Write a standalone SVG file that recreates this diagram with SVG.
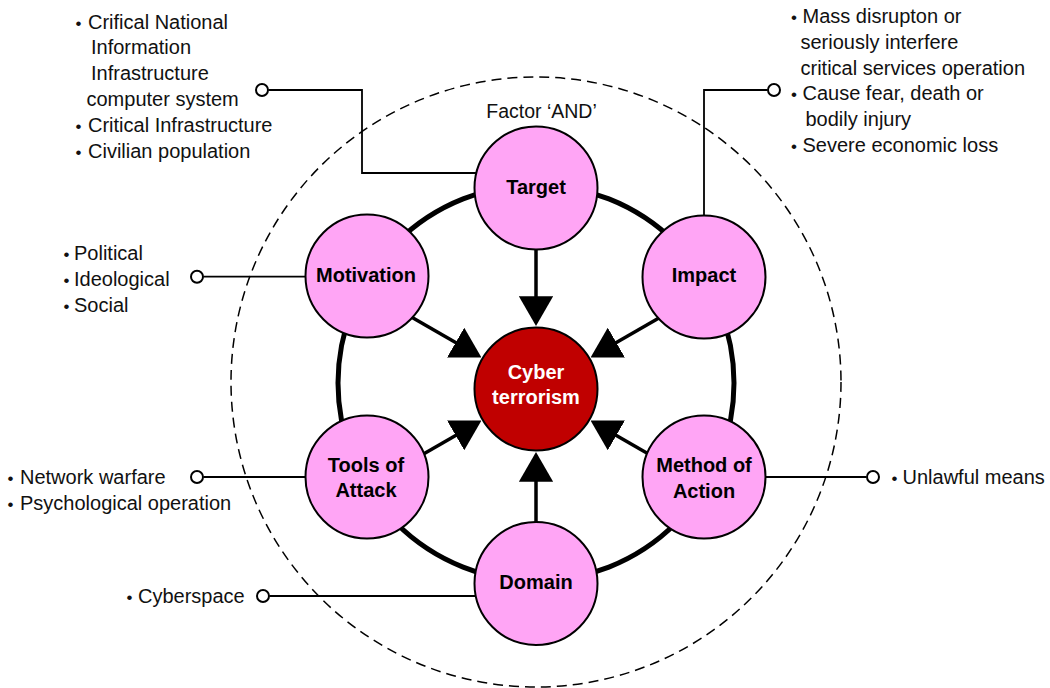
<svg xmlns="http://www.w3.org/2000/svg" width="1050" height="688" viewBox="0 0 1050 688">
<style>
.node{fill:#FFA5F5;stroke:#000;stroke-width:2}
.core{fill:#C00000;stroke:#000;stroke-width:2}
.lbl{font-family:"Liberation Sans",Arial,sans-serif;font-size:20px;font-weight:bold;text-anchor:middle;fill:#000}
.wl{fill:#fff}
.txt{font-family:"Liberation Sans",Arial,sans-serif;font-size:20px;fill:#111}
.b{font-size:17px}
.thin{fill:none;stroke:#000;stroke-width:1.8}
.term{fill:#fff;stroke:#000;stroke-width:2}
.arr{stroke:#000;stroke-width:3.5;marker-end:url(#ah)}
</style>
<defs>
<marker id="ah" markerUnits="userSpaceOnUse" viewBox="0 -17.2 29.8 34.4" markerWidth="29.8" markerHeight="34.4" refX="1" refY="0" orient="auto">
<path d="M0,-17.2 L29.8,0 L0,17.2 Z" fill="#000"/>
</marker>
</defs>
<rect width="1050" height="688" fill="#fff"/>
<circle id="boundary" cx="536" cy="382" r="305" fill="none" stroke="#000" stroke-width="1.5" stroke-dasharray="10 6"/>
<circle id="ring" cx="536" cy="383" r="198" fill="none" stroke="#000" stroke-width="5"/>
<g id="connectors">
<polyline class="thin" points="268.5,90 362,90 362,173 480,173"/>
<circle class="term" cx="262" cy="90" r="6"/>
<polyline class="thin" points="767.5,90 704,90 704,220"/>
<circle class="term" cx="774" cy="90" r="6"/>
<line class="thin" x1="203.5" y1="276.7" x2="310" y2="276.7"/>
<circle class="term" cx="197" cy="276.7" r="6"/>
<line class="thin" x1="203.5" y1="477" x2="310" y2="477"/>
<circle class="term" cx="197" cy="477" r="6"/>
<line class="thin" x1="269.5" y1="596" x2="480" y2="596"/>
<circle class="term" cx="263" cy="596" r="6"/>
<line class="thin" x1="760" y1="477" x2="866.5" y2="477"/>
<circle class="term" cx="873" cy="477" r="6"/>
<line class="arr" x1="536" y1="230" x2="536" y2="297.2"/>
<line class="arr" x1="536" y1="600" x2="536" y2="480.8"/>
<line class="arr" x1="397.4" y1="309" x2="456.5" y2="343.1"/>
<line class="arr" x1="674.6" y1="309" x2="615.5" y2="343.1"/>
<line class="arr" x1="397.4" y1="469" x2="456.5" y2="434.9"/>
<line class="arr" x1="674.6" y1="469" x2="615.5" y2="434.9"/>
</g>
<g id="node-target">
<circle class="node" cx="536" cy="188" r="61.5"/>
<text class="lbl" x="536" y="194">Target</text>
</g>
<g id="node-motivation">
<circle class="node" cx="367" cy="276" r="61.5"/>
<text class="lbl" x="366" y="282">Motivation</text>
</g>
<g id="node-impact">
<circle class="node" cx="704" cy="277" r="61.5"/>
<text class="lbl" x="704" y="282">Impact</text>
</g>
<g id="node-tools">
<circle class="node" cx="367" cy="477" r="61.5"/>
<text class="lbl" x="366" y="472">Tools of</text>
<text class="lbl" x="366" y="497">Attack</text>
</g>
<g id="node-method">
<circle class="node" cx="704" cy="477" r="61.5"/>
<text class="lbl" x="704" y="472">Method of</text>
<text class="lbl" x="704" y="497.5">Action</text>
</g>
<g id="node-domain">
<circle class="node" cx="536" cy="583.5" r="61.5"/>
<text class="lbl" x="536" y="589">Domain</text>
</g>
<g id="node-core">
<circle class="core" cx="536" cy="389" r="61.5"/>
<text class="lbl wl" x="536" y="378.5">Cyber</text>
<text class="lbl wl" x="536" y="403.5">terrorism</text>
</g>
<g id="factor-label">
<text class="txt" x="541.5" y="117.5" text-anchor="middle" style="font-size:19.5px">Factor ‘AND’</text>
</g>
<g id="notes-target">
<text class="txt" x="75.5" y="28.5"><tspan class="b">•</tspan><tspan x="88">Crifical National</tspan></text>
<text class="txt" x="91" y="54">Information</text>
<text class="txt" x="91" y="80">Infrastructure</text>
<text class="txt" x="86.5" y="106">computer system</text>
<text class="txt" x="75.5" y="132"><tspan class="b">•</tspan><tspan x="88">Critical Infrastructure</tspan></text>
<text class="txt" x="75.5" y="157.5"><tspan class="b">•</tspan><tspan x="88">Civilian population</tspan></text>
</g>
<g id="notes-impact">
<text class="txt" x="791" y="23"><tspan class="b">•</tspan><tspan x="802.5">Mass disrupton or</tspan></text>
<text class="txt" x="800.5" y="48.5">seriously interfere</text>
<text class="txt" x="800.5" y="74.5">critical services operation</text>
<text class="txt" x="791" y="100"><tspan class="b">•</tspan><tspan x="802.5">Cause fear, death or</tspan></text>
<text class="txt" x="805.5" y="126">bodily injury</text>
<text class="txt" x="791" y="152"><tspan class="b">•</tspan><tspan x="802.5">Severe economic loss</tspan></text>
</g>
<g id="notes-motivation">
<text class="txt" x="63.5" y="259.5"><tspan class="b">•</tspan><tspan x="74">Political</tspan></text>
<text class="txt" x="63.5" y="286"><tspan class="b">•</tspan><tspan x="74">Ideological</tspan></text>
<text class="txt" x="63.5" y="312"><tspan class="b">•</tspan><tspan x="74">Social</tspan></text>
</g>
<g id="notes-tools">
<text class="txt" x="7.5" y="484"><tspan class="b">•</tspan><tspan x="20">Network warfare</tspan></text>
<text class="txt" x="7.5" y="510"><tspan class="b">•</tspan><tspan x="20">Psychological operation</tspan></text>
</g>
<g id="notes-domain">
<text class="txt" x="126.5" y="603"><tspan class="b">•</tspan><tspan x="138">Cyberspace</tspan></text>
</g>
<g id="notes-method">
<text class="txt" x="891.5" y="483.5"><tspan class="b">•</tspan><tspan x="902.5">Unlawful means</tspan></text>
</g>
</svg>
